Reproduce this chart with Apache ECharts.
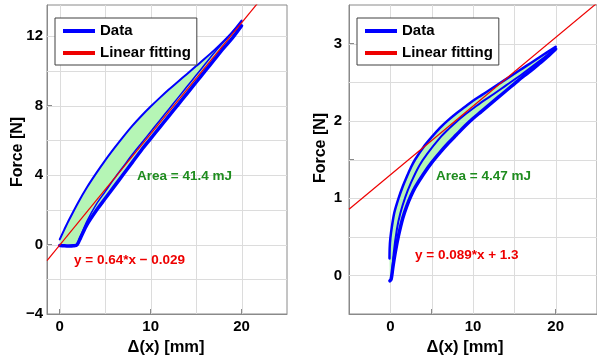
<!DOCTYPE html>
<html><head><meta charset="utf-8">
<script src="https://cdn.jsdelivr.net/npm/echarts@6/dist/echarts.min.js"></script>
<style>html,body{margin:0;padding:0;background:#fff}#chart{width:597px;height:362px}</style>
</head><body><div id="chart"></div>
<script>
// ---------- Left panel data ----------
const leftUpperX = [0, 0.5, 1, 2, 3, 4, 5, 6, 7, 8, 9, 10, 11, 12, 13, 14, 15, 16, 17, 18, 19, 20];
const leftUpperY = [0.3, 0.86, 1.4, 2.4, 3.3, 4.1, 4.85, 5.55, 6.22, 6.85, 7.42, 7.95, 8.45, 8.93, 9.38, 9.83, 10.28, 10.73, 11.2, 11.7, 12.25, 12.9];
const leftLowerX = [0, 0.5, 1, 1.5, 1.9, 2.3, 3, 4, 5, 6, 7, 8, 9, 10, 11, 12, 13, 14, 15, 16, 17, 18, 19, 20];
const leftLowerY = [-0.05, -0.07, -0.08, -0.07, -0.02, 0.4, 1.15, 1.95, 2.65, 3.35, 4.05, 4.75, 5.45, 6.1, 6.75, 7.4, 8.05, 8.7, 9.35, 10.0, 10.65, 11.3, 11.9, 12.6];
const leftInnerX = [1.9, 2.3, 3, 4, 5, 6, 7, 8, 9, 10, 11, 12, 13, 14, 15, 16, 17, 18, 19, 20];
const leftInnerY = [0, 0.5, 1.35, 2.3, 3.05, 3.8, 4.5, 5.2, 5.85, 6.5, 7.15, 7.8, 8.45, 9.1, 9.75, 10.4, 11.05, 11.65, 12.25, 12.85];
const leftFitX = [-1.4, 25];
const leftFitY = [-0.925, 15.971];

// ---------- Right panel data ----------
const rightUpperX = [-0.1, -0.08, 0.0, 0.2, 0.5, 1.0, 1.5, 2.0, 2.5, 3.0, 4.0, 5.0, 6.0, 7.0, 8.0, 9.0, 10, 11, 12, 13, 14, 15, 16, 17, 18, 19, 20];
const rightUpperY = [0.22, 0.35, 0.48, 0.64, 0.82, 1.0, 1.15, 1.28, 1.40, 1.50, 1.66, 1.79, 1.91, 2.01, 2.10, 2.18, 2.26, 2.33, 2.40, 2.47, 2.54, 2.61, 2.68, 2.75, 2.82, 2.89, 2.96];
const rightLowerX = [-0.05, 0.1, 0.3, 0.6, 1.0, 1.5, 2.0, 2.5, 3.0, 4.0, 5.0, 6.0, 7.0, 8.0, 9.0, 10, 11, 12, 13, 14, 15, 16, 17, 18, 19, 20];
const rightLowerY = [-0.07, -0.05, 0.1, 0.3, 0.52, 0.74, 0.9, 1.03, 1.14, 1.31, 1.46, 1.59, 1.71, 1.82, 1.93, 2.03, 2.12, 2.21, 2.30, 2.39, 2.48, 2.57, 2.65, 2.74, 2.83, 2.93];
const rightInnerX = [0.2, 0.4, 0.8, 1.2, 1.8, 2.5, 3.5, 4.5, 6, 7, 8, 9, 10, 11, 12, 14, 16, 18, 20];
const rightInnerY = [0.0, 0.28, 0.6, 0.8, 1.01, 1.2, 1.42, 1.58, 1.78, 1.89, 1.99, 2.08, 2.16, 2.24, 2.31, 2.46, 2.61, 2.77, 2.94];
const rightFitX = [-5, 25];
const rightFitY = [0.855, 3.525];

// ---------- Axis ranges / ticks / labels / grid lines ----------
const leftXRange = [-1.4, 25];
const leftYRange = [-4, 13.8];
const rightXRange = [-5, 25];
const rightYRange = [-0.5, 3.5];
const leftXTicks = [0, 5, 10, 15, 20];
const leftXLabels = [0, 10, 20];
const leftYTicks = [-4, -2, 0, 2, 4, 6, 8, 10, 12];
const leftYLabels = [-4, 0, 4, 8, 12];
const rightXTicks = [-5, 0, 5, 10, 15, 20];
const rightXLabels = [0, 10, 20];
const rightYTicks = [-0.5, 0, 0.5, 1, 1.5, 2, 2.5, 3];
const rightYLabels = [0, 1, 2, 3];
const leftXGrid = [0, 5, 10, 15, 20];
const leftYGrid = [-2, 0, 2, 4, 6, 8, 10, 12];
const rightXGrid = [0, 5, 10, 15, 20];
const rightYGrid = [0, 0.5, 1, 1.5, 2, 2.5, 3];

const legendNames = ['Data', 'Linear fitting'];
const xTitle = 'Δ(x) [mm]';
const yTitle = 'Force [N]';
const leftArea = 'Area = 41.4 mJ';
const leftEq = 'y = 0.64*x \u2212 0.029';
const rightArea = 'Area = 4.47 mJ';
const rightEq = 'y = 0.089*x + 1.3';

// ---------- helpers ----------
const FONT = "'Liberation Sans', Arial, Helvetica, sans-serif";
const BLUE = '#0000ff', RED = '#ee0000', FILL = '#b5f5b5', GREEN = '#1e8c1e', AXC = '#8a8a8a';
const zip = (xs, ys) => xs.map((x, i) => [x, ys[i]]);
const fmt = v => String(v).replace('-', '\u2212');

function axis(grid, range, ticks, labels, margin) {
  return {
    type: 'value', gridIndex: grid, min: range[0], max: range[1],
    axisLine: {show: true, onZero: false, lineStyle: {color: AXC, width: 1}},
    axisTick: {show: true, inside: true, length: 5, customValues: ticks, lineStyle: {color: AXC}},
    axisLabel: {customValues: labels, margin: margin, color: '#000', fontSize: 15, fontWeight: 'bold',
      fontFamily: FONT, formatter: fmt},
    splitLine: {show: false}
  };
}

function fillSeries(idx, lowerX, lowerY, upperX, upperY) {
  const loop = zip(lowerX, lowerY).concat(zip(upperX, upperY).reverse());
  return {
    type: 'custom', xAxisIndex: idx, yAxisIndex: idx, silent: true, z: 2,
    data: loop,
    renderItem: function (params, api) {
      if (params.dataIndex !== 0) return null;
      const pts = loop.map(p => api.coord(p));
      return {type: 'polygon', shape: {points: pts}, style: {fill: FILL}};
    }
  };
}

function dataLine(idx, xs, ys, w) {
  return {
    name: 'Data', type: 'line', xAxisIndex: idx, yAxisIndex: idx, data: zip(xs, ys),
    showSymbol: false, symbol: 'none', smooth: 0.3, z: 3, color: BLUE,
    itemStyle: {color: BLUE},
    lineStyle: {color: BLUE, width: w, type: 'solid', cap: 'round', join: 'round'}, silent: true
  };
}

function fitLine(idx, xs, ys) {
  return {
    name: 'Linear fitting', type: 'line', xAxisIndex: idx, yAxisIndex: idx, data: zip(xs, ys),
    showSymbol: false, symbol: 'none', z: 5, color: RED, itemStyle: {color: RED},
    lineStyle: {color: RED, width: 1.2, type: 'solid'}, clip: true, silent: true
  };
}

function legend(left) {
  return {
    left: left, top: 18, orient: 'vertical', selectedMode: false,
    padding: [4, 6, 3, 8], itemGap: 4, itemWidth: 32, itemHeight: 4,
    borderColor: '#404040', borderWidth: 1, backgroundColor: '#fff',
    textStyle: {fontSize: 15, fontWeight: 'bold', fontFamily: FONT, color: '#000', lineHeight: 18},
    data: legendNames.map(n => ({name: n, icon: 'rect'}))
  };
}

function txt(x, y, text, color, size, rot, align) {
  return {
    type: 'text', x: x, y: y, rotation: rot || 0, z: 10,
    style: {text: text, fill: color, font: 'bold ' + size + 'px ' + FONT,
      align: align || 'left', verticalAlign: 'middle'}
  };
}

const texts = [
  txt(18, 152, yTitle, '#000', 16, Math.PI / 2, 'center'),
  txt(321, 148, yTitle, '#000', 16, Math.PI / 2, 'center'),
  txt(166, 347, xTitle, '#000', 16.5, 0, 'center'),
  txt(465, 347, xTitle, '#000', 16.5, 0, 'center'),
  txt(137, 176, leftArea, GREEN, 13.5),
  txt(74, 260, leftEq, RED, 13.5),
  txt(436, 176, rightArea, GREEN, 13.5),
  txt(415, 255, rightEq, RED, 13.5)
];

const option = {
  animation: false,
  backgroundColor: '#fff',
  grid: [
    {left: 47, top: 5, width: 240, height: 309, show: true, borderColor: AXC, borderWidth: 1, backgroundColor: 'transparent'},
    {left: 349, top: 5, width: 250, height: 309, show: true, borderColor: AXC, borderWidth: 1, backgroundColor: 'transparent'}
  ],
  xAxis: [
    axis(0, leftXRange, leftXTicks, leftXLabels, 5),
    axis(1, rightXRange, rightXTicks, rightXLabels, 5)
  ],
  yAxis: [
    axis(0, leftYRange, leftYTicks, leftYLabels, 4),
    axis(1, rightYRange, rightYTicks, rightYLabels, 7)
  ],
  legend: [legend(55), legend(357)],
  series: [
    fillSeries(0, leftLowerX, leftLowerY, leftUpperX, leftUpperY),
    dataLine(0, leftLowerX, leftLowerY, 3.5),
    dataLine(0, leftUpperX, leftUpperY, 2),
    dataLine(0, leftInnerX, leftInnerY, 1.5),
    fitLine(0, leftFitX, leftFitY),
    fillSeries(1, rightLowerX, rightLowerY, rightUpperX, rightUpperY),
    dataLine(1, rightLowerX, rightLowerY, 3.5),
    dataLine(1, rightUpperX, rightUpperY, 2.5),
    dataLine(1, rightInnerX, rightInnerY, 2),
    fitLine(1, rightFitX, rightFitY)
  ],
  graphic: texts
};

const chart = echarts.init(document.getElementById('chart'), null, {renderer: 'canvas'});
chart.setOption(option);

// grid lines placed through the chart's own scales (convertToPixel)
function gridGraphics(gi, xs, ys, xr, yr) {
  const out = [];
  const P = v => chart.convertToPixel({gridIndex: gi}, v);
  xs.forEach(v => {
    const a = P([v, yr[1]]), b = P([v, yr[0]]);
    const x = Math.round(a[0]) + 0.5;
    out.push({type: 'line', z: 1, silent: true,
      shape: {x1: x, y1: a[1], x2: x, y2: b[1]},
      style: {stroke: '#dcdcdc', lineWidth: 1}});
  });
  ys.forEach(v => {
    const a = P([xr[0], v]), b = P([xr[1], v]);
    const y = Math.round(a[1]) + 0.5;
    out.push({type: 'line', z: 1, silent: true,
      shape: {x1: a[0], y1: y, x2: b[0], y2: y},
      style: {stroke: '#dcdcdc', lineWidth: 1}});
  });
  return out;
}

const lines = gridGraphics(0, leftXGrid, leftYGrid, leftXRange, leftYRange)
  .concat(gridGraphics(1, rightXGrid, rightYGrid, rightXRange, rightYRange));
chart.setOption({graphic: texts.concat(lines)});
</script>
</body></html>
